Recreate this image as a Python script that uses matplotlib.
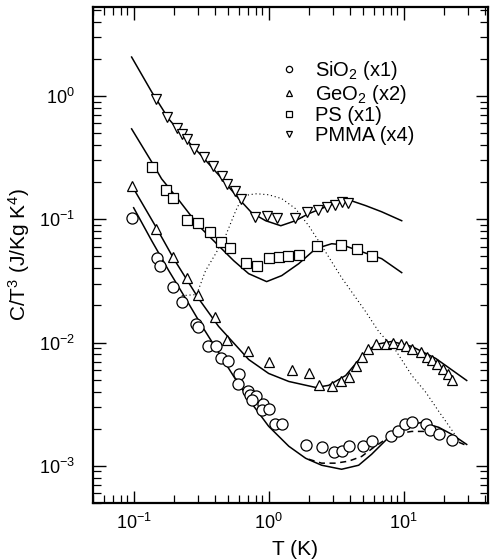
import matplotlib
matplotlib.use("Agg")
import matplotlib.pyplot as plt
from matplotlib.lines import Line2D

plt.rcParams['font.family'] = 'Liberation Sans'
plt.rcParams['mathtext.fontset'] = 'custom'
plt.rcParams['mathtext.rm'] = 'Liberation Sans'
plt.rcParams['mathtext.it'] = 'Liberation Sans:italic'
plt.rcParams['mathtext.bf'] = 'Liberation Sans:bold'

# measured points (T in K, C/T^3 in J/Kg K^4)
sio2_T = [0.0966, 0.148, 0.156, 0.195, 0.227, 0.288, 0.298, 0.353, 0.405, 0.441,
          0.497, 0.600, 0.589, 0.699, 0.723, 0.801, 0.748, 0.903, 0.888, 1.0,
          1.11, 1.25, 1.88, 2.47, 3.03, 3.47, 3.91, 4.97, 5.79, 8.01,
          9.03, 10.2, 11.5, 14.6, 15.8, 18.2, 22.7]
sio2_C = [0.1028, 0.0488, 0.0420, 0.0284, 0.0215, 0.01425, 0.01348, 0.00929, 0.00929, 0.00742,
          0.00702, 0.00551, 0.00457, 0.00401, 0.00372, 0.00365, 0.00339, 0.00315, 0.00281, 0.00287,
          0.00217, 0.00217, 0.00147, 0.00141, 0.00129, 0.00131, 0.00144, 0.00144, 0.00158, 0.00173,
          0.00190, 0.00217, 0.00225, 0.00217, 0.00194, 0.00180, 0.00161]

geo2_T = [0.0966, 0.146, 0.195, 0.247, 0.298, 0.398, 0.489, 0.699, 1.0, 1.48,
          1.98, 2.35, 2.93, 3.41, 3.91, 4.41, 4.88, 5.41, 6.20, 7.36,
          8.29, 9.50, 10.35, 11.5, 13.4, 14.8, 16.1, 17.6, 19.5, 21.2, 22.7]
geo2_C = [0.187, 0.0838, 0.0497, 0.0336, 0.0245, 0.0162, 0.01057, 0.00861, 0.00689, 0.00593,
          0.00561, 0.00449, 0.00440, 0.00483, 0.00530, 0.00639, 0.00770, 0.00878, 0.00981, 0.00981,
          0.0100, 0.00964, 0.00929, 0.00878, 0.00830, 0.00770, 0.00728, 0.00664, 0.00605, 0.00551, 0.00501]

ps_T = [0.136, 0.173, 0.195, 0.247, 0.298, 0.366, 0.441, 0.514, 0.676, 0.815,
        1.0, 1.19, 1.38, 1.67, 2.27, 3.41, 4.49, 5.79]
ps_C = [0.266, 0.173, 0.149, 0.099, 0.0937, 0.0792, 0.0657, 0.0588, 0.0445, 0.042,
        0.0488, 0.0497, 0.0506, 0.0516, 0.061, 0.0622, 0.0577, 0.0506]

pmma_T = [0.146, 0.176, 0.208, 0.227, 0.247, 0.278, 0.330, 0.385, 0.449, 0.489,
          0.560, 0.621, 0.788, 0.966, 1.15, 1.56, 1.91, 2.31, 2.69, 3.08, 3.47, 3.85]
pmma_C = [0.946, 0.676, 0.551, 0.492, 0.449, 0.372, 0.321, 0.271, 0.225, 0.194,
          0.170, 0.147, 0.105, 0.107, 0.103, 0.103, 0.115, 0.119, 0.126, 0.131, 0.139, 0.136]

# model curves
sio2_fit_T = [0.1, 0.136, 0.182, 0.243, 0.319, 0.426, 0.570, 0.748, 1.0, 1.41,
              1.88, 2.47, 3.47, 4.64, 5.79, 7.74, 10.3, 13.6, 18.2, 22.7, 29.3]
sio2_fit_C = [0.124, 0.0670, 0.0383, 0.0227, 0.01373, 0.00830, 0.00501, 0.00321, 0.00209, 0.00144,
              0.00115, 0.00101, 0.000937, 0.00101, 0.00124, 0.00170, 0.00209, 0.00225, 0.00205, 0.00180, 0.00149]

sio2_alt_T = [1.98, 2.47, 3.14, 3.91, 4.88, 6.0, 7.36, 9.18, 11.5, 14.6, 18.2, 22.7, 28.8]
sio2_alt_C = [0.00113, 0.00105, 0.00105, 0.00109, 0.00119, 0.00141, 0.00164, 0.00183, 0.00190,
              0.00190, 0.00180, 0.00164, 0.00147]

geo2_fit_T = [0.1, 0.146, 0.198, 0.303, 0.426, 0.600, 0.711, 1.0, 1.41, 2.23,
              2.78, 3.72, 4.88, 6.20, 8.15, 11.5, 17.3, 29.3]
geo2_fit_C = [0.177, 0.0869, 0.0479, 0.0227, 0.0135, 0.00894, 0.00728, 0.00561, 0.00483, 0.00432,
              0.00449, 0.00540, 0.00770, 0.00964, 0.0102, 0.00929, 0.00742, 0.00492]

ps_fit_T = [0.0966, 0.136, 0.161, 0.215, 0.303, 0.426, 0.551, 0.711, 0.966, 1.25,
            1.67, 2.23, 2.93, 3.47, 4.64, 6.87, 9.67]
ps_fit_C = [0.541, 0.292, 0.213, 0.144, 0.0886, 0.0610, 0.0461, 0.0362, 0.0312, 0.0349,
            0.0436, 0.0577, 0.0633, 0.0622, 0.0556, 0.0479, 0.0369]

pmma_fit_T = [0.0966, 0.136, 0.182, 0.243, 0.319, 0.426, 0.600, 0.748, 0.950, 1.23,
              1.58, 1.98, 2.64, 3.47, 4.12, 5.23, 6.87, 9.67]
pmma_fit_C = [2.07, 1.08, 0.651, 0.449, 0.327, 0.229, 0.147, 0.113, 0.0973, 0.0886,
              0.0973, 0.111, 0.126, 0.141, 0.141, 0.129, 0.115, 0.0973]

dot_T = [0.227, 0.293, 0.341, 0.405, 0.480, 0.570, 0.631, 0.711, 0.815, 1.0,
         1.25, 1.58, 1.98, 2.47, 3.47, 5.23, 6.53, 8.73, 11.5, 14.6, 18.2, 21.5, 25.6]
dot_C = [0.0240, 0.0245, 0.0383, 0.0526, 0.0735, 0.117, 0.147, 0.158, 0.161, 0.158,
         0.147, 0.122, 0.0886, 0.0610, 0.0336, 0.0178, 0.01228, 0.00861, 0.00540, 0.00394,
         0.00276, 0.00213, 0.00161]

labels = ['SiO$_2$ (x1)', 'GeO$_2$ (x2)', 'PS (x1)', 'PMMA (x4)']
markers = ['o', '^', 's', 'v']

fig = plt.figure(figsize=(4.96, 5.6), dpi=100)
ax = fig.add_axes([0.1875, 0.102, 0.796, 0.886])
ax.set_xscale('log')
ax.set_yscale('log')

for T, C in [(sio2_fit_T, sio2_fit_C), (geo2_fit_T, geo2_fit_C),
             (ps_fit_T, ps_fit_C), (pmma_fit_T, pmma_fit_C)]:
    ax.plot(T, C, color='black', lw=1.1)
ax.plot(sio2_alt_T, sio2_alt_C, color='black', lw=1.1, ls=(0, (4, 3)))
ax.plot(dot_T, dot_C, color='black', lw=0.8, ls=(0, (1, 2.5)))

series = [(sio2_T, sio2_C), (geo2_T, geo2_C), (ps_T, ps_C), (pmma_T, pmma_C)]
sizes = [8, 7.5, 7, 7.5]
for (T, C), m, ms in zip(series, markers, sizes):
    ax.plot(T, C, ls='none', marker=m, ms=ms, mfc='white', mec='black', mew=0.9)

handles = [Line2D([], [], ls='none', marker=m, ms=4.5, mfc='white', mec='black', mew=0.9)
           for m in markers]
ax.legend(handles, labels, loc='upper left', bbox_to_anchor=(0.45, 0.91),
          frameon=False, fontsize=14.5, handlelength=1.0, handletextpad=0.8,
          labelspacing=0.02, borderaxespad=0)

ax.set_xlim(0.05, 42)
ax.set_ylim(5e-4, 5.3)

ax.tick_params(which='both', direction='in', top=True, right=True, labelsize=13)
ax.tick_params(which='major', length=9, width=1)
ax.tick_params(which='minor', length=5.5, width=0.9)
ax.tick_params(axis='x', pad=7)
ax.tick_params(axis='y', pad=13)
for s in ax.spines.values():
    s.set_linewidth(1.6)

ax.set_xlabel('T (K)', fontsize=15)
ax.set_ylabel('C/T$^3$ (J/Kg K$^4$)', fontsize=15)
ax.xaxis.set_label_coords(0.511, -0.074)
ax.yaxis.set_label_coords(-0.155, 0.5)

fig.savefig('out.png', dpi=100)
